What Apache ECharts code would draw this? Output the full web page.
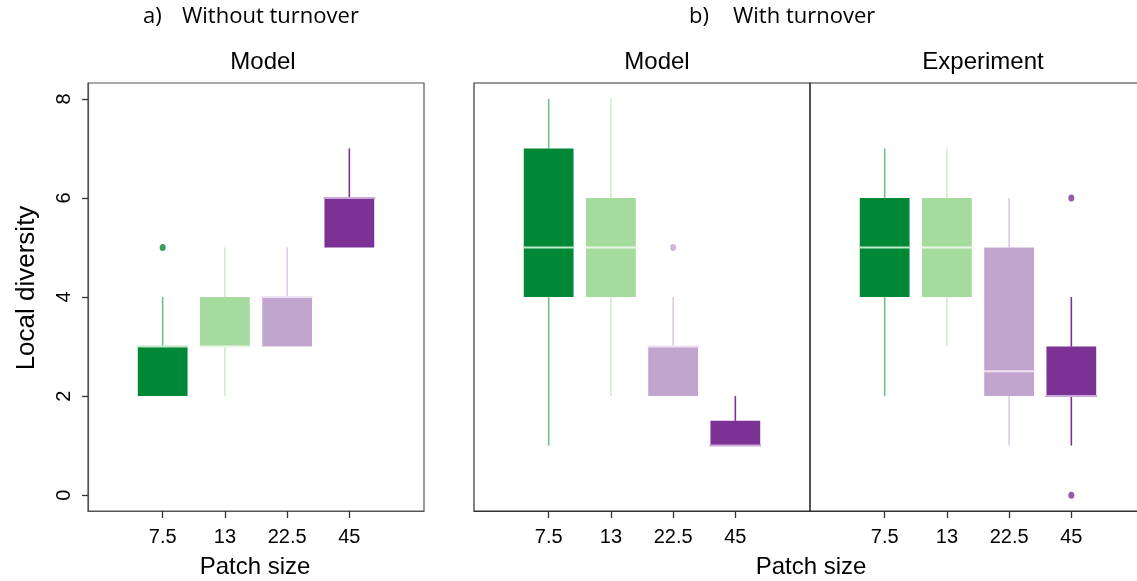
<!DOCTYPE html>
<html>
<head>
<meta charset="utf-8">
<script src="https://cdn.jsdelivr.net/npm/echarts@6/dist/echarts.min.js"></script>
<style>
html,body{margin:0;padding:0;background:#fff;}
#chart{width:1137px;height:581px;}
</style>
</head>
<body>
<div id="chart"></div>
<script>
// ---- data ----
const categories = ['7.5', '13', '22.5', '45'];
const yTicks = [0, 2, 4, 6, 8];
// each box: [lower whisker, Q1, median, Q3, upper whisker]
const modelWithoutTurnover = [[2, 2, 3, 3, 4], [2, 3, 3, 4, 5], [3, 3, 4, 4, 5], [5, 5, 6, 6, 7]];
const modelWithoutTurnoverOutliers = [[1, 5]];       // [category position, value]
const modelWithTurnover = [[1, 4, 5, 7, 8], [2, 4, 5, 6, 8], [2, 2, 3, 3, 4], [1, 1, 1, 1.5, 2]];
const modelWithTurnoverOutliers = [[3, 5]];
const experimentWithTurnover = [[2, 4, 5, 6, 7], [3, 4, 5, 6, 7], [1, 2, 2.5, 5, 6], [1, 2, 2, 3, 4]];
const experimentWithTurnoverOutliers = [[4, 6], [4, 0]];

// ---- styles ----
const boxColors = ['#008837', '#a6dba0', '#c2a5cf', '#7b3294'];
const whiskerColors = ['#6cc08b', '#d2eecd', '#dccbe4', '#7b3294'];
const medianColors = ['#c4e6cb', '#e8f6e5', '#eee3f3', '#c9a8d6'];
const FONT = '"Liberation Sans", Arial, sans-serif';

const chart = echarts.init(document.getElementById('chart'), null, {renderer: 'canvas'});

function toSeriesData(boxes) {
  return boxes.map((b, i) => [i + 1].concat(b));
}

function renderBox(params, api) {
  const x = api.value(0);
  const idx = Math.round(x) - 1;
  const lo = api.coord([x, api.value(1)]);
  const q1 = api.coord([x, api.value(2)]);
  const med = api.coord([x, api.value(3)]);
  const q3 = api.coord([x, api.value(4)]);
  const hi = api.coord([x, api.value(5)]);
  const w = api.size([0.8, 0])[0];
  const cx = q1[0];
  const children = [];
  if (hi[1] < q3[1]) {
    children.push({type: 'line', shape: {x1: cx, y1: hi[1], x2: cx, y2: q3[1]},
      style: {stroke: whiskerColors[idx], lineWidth: 1.6}});
  }
  if (lo[1] > q1[1]) {
    children.push({type: 'line', shape: {x1: cx, y1: q1[1], x2: cx, y2: lo[1]},
      style: {stroke: whiskerColors[idx], lineWidth: 1.6}});
  }
  children.push({type: 'rect', shape: {x: cx - w / 2, y: q3[1], width: w, height: q1[1] - q3[1]},
    style: {fill: boxColors[idx]}});
  children.push({type: 'line', shape: {x1: cx - w / 2 - 1, y1: med[1], x2: cx + w / 2 + 1, y2: med[1]},
    style: {stroke: medianColors[idx], lineWidth: 2}});
  return {type: 'group', children: children};
}

const grids = [
  {left: 88, top: 83, width: 336, height: 428},
  {left: 474, top: 83, width: 336, height: 428},
  {left: 810, top: 83, width: 336, height: 428}
];
const borderColors = ['#555', '#333', '#333'];

const xAxes = grids.map((g, i) => ({
  type: 'value', gridIndex: i, min: -0.2, max: 5.2, position: 'bottom',
  axisLine: {show: true, onZero: false, lineStyle: {color: borderColors[i], width: 1.2}},
  splitLine: {show: false},
  axisTick: {show: true, inside: false, length: 7, lineStyle: {color: '#333', width: 1.3}, customValues: [1, 2, 3, 4]},
  axisLabel: {show: true, customValues: [1, 2, 3, 4], fontSize: 20, fontFamily: FONT, color: '#000', margin: 16,
    formatter: v => categories[Math.round(v) - 1]}
}));

const yAxes = grids.map((g, i) => ({
  type: 'value', gridIndex: i, min: -0.32, max: 8.32, position: 'left',
  axisLine: {show: i === 0, onZero: false, lineStyle: {color: borderColors[i], width: 1.2}},
  splitLine: {show: false},
  axisTick: {show: i === 0, inside: false, length: 6, lineStyle: {color: '#333', width: 1.3}, customValues: yTicks},
  axisLabel: {show: i === 0, customValues: yTicks, rotate: 90, fontSize: 20, fontFamily: FONT, color: '#000', margin: 14}
}));

const boxSets = [modelWithoutTurnover, modelWithTurnover, experimentWithTurnover];
const outlierSets = [modelWithoutTurnoverOutliers, modelWithTurnoverOutliers, experimentWithTurnoverOutliers];

const series = [];
boxSets.forEach((boxes, i) => {
  series.push({
    type: 'custom', xAxisIndex: i, yAxisIndex: i,
    renderItem: renderBox,
    encode: {x: 0, y: [1, 2, 3, 4, 5]},
    data: toSeriesData(boxes),
    silent: true, animation: false
  });
  series.push({
    type: 'scatter', xAxisIndex: i, yAxisIndex: i,
    symbol: 'circle', symbolSize: [6, 7],
    itemStyle: {color: p => boxColors[Math.round(p.value[0]) - 1]},
    data: outlierSets[i],
    silent: true, animation: false
  });
});

const textStyle = (size, fam) => ({fontSize: size, fontFamily: fam || FONT, fill: '#000'});

chart.setOption({
  animation: false,
  backgroundColor: '#fff',
  grid: grids.map((g, i) => Object.assign({show: true, outerBoundsMode: 'none', containLabel: false,
    borderColor: borderColors[i], borderWidth: 1.2, backgroundColor: 'transparent'}, g)),
  xAxis: xAxes,
  yAxis: yAxes,
  series: series,
  graphic: [
    {type: 'text', left: 143, top: 6, style: Object.assign({text: 'a)'}, textStyle(22, '"Open Sans", sans-serif'))},
    {type: 'text', left: 182, top: 6, style: Object.assign({text: 'Without turnover'}, textStyle(22, '"Open Sans", sans-serif'))},
    {type: 'text', left: 689, top: 6, style: Object.assign({text: 'b)'}, textStyle(22, '"Open Sans", sans-serif'))},
    {type: 'text', left: 733, top: 6, style: Object.assign({text: 'With turnover'}, textStyle(22, '"Open Sans", sans-serif'))},
    {type: 'text', x: 263, y: 62, style: Object.assign({text: 'Model', align: 'center', verticalAlign: 'middle'}, textStyle(24))},
    {type: 'text', x: 657, y: 62, style: Object.assign({text: 'Model', align: 'center', verticalAlign: 'middle'}, textStyle(24))},
    {type: 'text', x: 983, y: 62, style: Object.assign({text: 'Experiment', align: 'center', verticalAlign: 'middle'}, textStyle(24))},
    {type: 'text', x: 255, y: 567, style: Object.assign({text: 'Patch size', align: 'center', verticalAlign: 'middle'}, textStyle(24))},
    {type: 'text', x: 811, y: 567, style: Object.assign({text: 'Patch size', align: 'center', verticalAlign: 'middle'}, textStyle(24))},
    {type: 'text', x: 27, y: 288, rotation: Math.PI / 2, style: Object.assign({text: 'Local diversity', align: 'center', verticalAlign: 'middle'}, textStyle(26))}
  ]
});
</script>
</body>
</html>
